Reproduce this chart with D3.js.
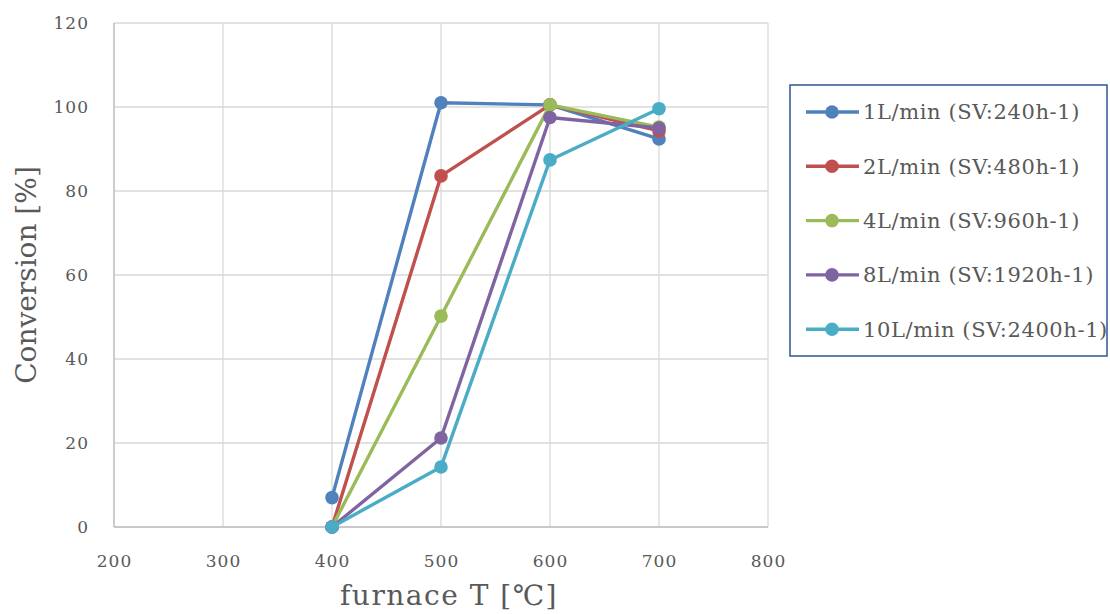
<!DOCTYPE html>
<html><head><meta charset="utf-8">
<script src="https://cdn.jsdelivr.net/npm/d3@7"></script>
<style>body{margin:0;background:#fff}svg{display:block}</style>
</head><body>
<svg id="c" width="1110" height="614"></svg>
<script>
const temps = [400, 500, 600, 700];
const seriesNames = ["1L/min (SV:240h-1)", "2L/min (SV:480h-1)", "4L/min (SV:960h-1)", "8L/min (SV:1920h-1)", "10L/min (SV:2400h-1)"];
const s1 = [7, 101, 100.5, 92.4];
const s2 = [0, 83.6, 100.5, 94.3];
const s3 = [0, 50.2, 100.5, 95.2];
const s4 = [0, 21.2, 97.5, 95];
const s5 = [0, 14.3, 87.4, 99.6];
const colors = ["#4f81bd", "#c0504d", "#9bbb59", "#8064a2", "#4bacc6"];
const xTicks = [200, 300, 400, 500, 600, 700, 800];
const yTicks = [0, 20, 40, 60, 80, 100, 120];
const allSeries = [s1, s2, s3, s4, s5];

const svg = d3.select("#c");
const font = "'DejaVu Serif', serif";
const x = d3.scaleLinear().domain([200, 800]).range([114, 768]);
const y = d3.scaleLinear().domain([0, 120]).range([527, 23]);

// grid
svg.append("g").selectAll("line").data(xTicks).join("line")
  .attr("x1", d => x(d)).attr("x2", d => x(d)).attr("y1", y(0)).attr("y2", y(120))
  .attr("stroke", "#d9d9d9").attr("stroke-width", 1.3);
svg.append("g").selectAll("line").data(yTicks).join("line")
  .attr("x1", x(200)).attr("x2", x(800)).attr("y1", d => y(d)).attr("y2", d => y(d))
  .attr("stroke", "#d9d9d9").attr("stroke-width", 1.3);
// axes lines
svg.append("line").attr("x1", x(200)).attr("x2", x(800)).attr("y1", y(0)).attr("y2", y(0)).attr("stroke", "#bfbfbf").attr("stroke-width", 1.3);
svg.append("line").attr("x1", x(200)).attr("x2", x(200)).attr("y1", y(0)).attr("y2", y(120)).attr("stroke", "#bfbfbf").attr("stroke-width", 1.3);

// tick labels
svg.append("g").selectAll("text").data(yTicks).join("text")
  .attr("x", 89).attr("y", d => y(d)).attr("dy", "0.35em").attr("text-anchor", "end")
  .attr("font-family", font).attr("font-size", 17).attr("letter-spacing", 1)
  .attr("fill", "#595959").text(d => d);
svg.append("g").selectAll("text").data(xTicks).join("text")
  .attr("x", d => x(d) + 0.5).attr("y", 567).attr("text-anchor", "middle")
  .attr("font-family", font).attr("font-size", 17).attr("letter-spacing", 1)
  .attr("fill", "#595959").text(d => d);

// axis titles
svg.append("text").attr("transform", "translate(36,275) rotate(-90)").attr("text-anchor", "middle")
  .attr("font-family", font).attr("font-size", 28).attr("fill", "#595959").text("Conversion [%]");
svg.append("text").attr("x", 340).attr("y", 605).attr("text-anchor", "start")
  .attr("font-family", font).attr("font-size", 28).attr("letter-spacing", 1.5)
  .attr("fill", "#595959").text("furnace T [℃]");

const line = d3.line().x((d, i) => x(temps[i])).y(d => y(d));
allSeries.forEach((s, k) => {
  svg.append("path").datum(s).attr("d", line).attr("fill", "none")
    .attr("stroke", colors[k]).attr("stroke-width", 3.4).attr("stroke-linejoin", "round");
  svg.append("g").selectAll("circle").data(s).join("circle")
    .attr("cx", (d, i) => x(temps[i])).attr("cy", d => y(d)).attr("r", 6.8).attr("fill", colors[k]);
});

// legend
svg.append("rect").attr("x", 790).attr("y", 85).attr("width", 317).attr("height", 271)
  .attr("fill", "#fff").attr("stroke", "#2f5597").attr("stroke-width", 1.5);
const lg = svg.append("g").selectAll("g").data(seriesNames).join("g")
  .attr("transform", (d, i) => `translate(0,${112 + i * 54.3})`);
lg.append("line").attr("x1", 806).attr("x2", 859).attr("stroke", (d, i) => colors[i]).attr("stroke-width", 3.4);
lg.append("circle").attr("cx", 832).attr("r", 6.8).attr("fill", (d, i) => colors[i]);
lg.append("text").attr("x", 863).attr("dy", "0.35em").attr("font-family", font).attr("font-size", 21)
  .attr("letter-spacing", 0.6).attr("fill", "#595959").text(d => d);
</script>
</body></html>
